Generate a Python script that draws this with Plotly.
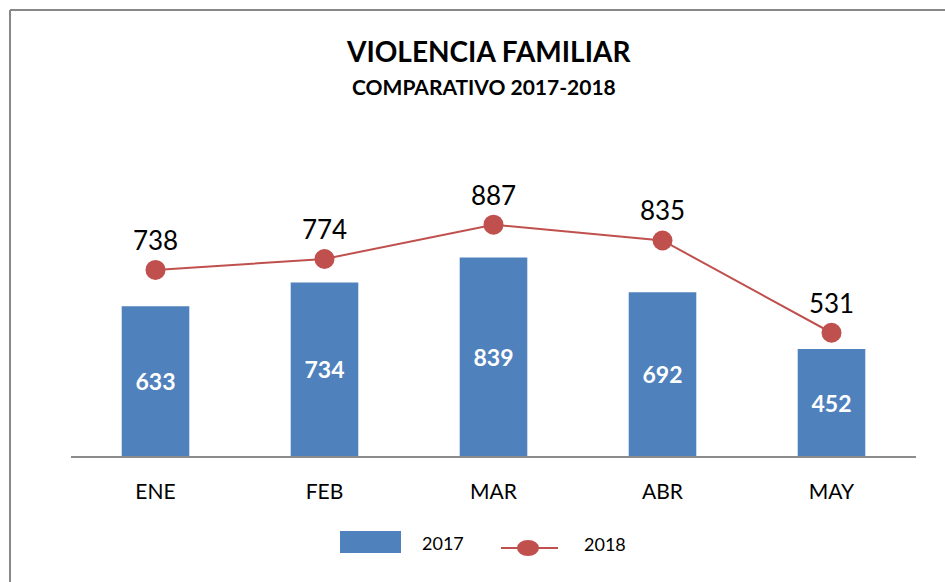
import plotly.graph_objects as go

meses = ["ENE", "FEB", "MAR", "ABR", "MAY"]
v2017 = [633, 734, 839, 692, 452]
v2018 = [738, 774, 887, 835, 531]

BLUE = "#4F81BD"
RED = "#C0504D"
FONT = "Lato"

# plot area in pixels: x 71..916, y 150..456
def xp(px):
    return (px - 71) / 845

def yp(py):
    return (456 - py) / 306

fig = go.Figure()
fig.add_trace(go.Bar(
    x=meses, y=v2017, name="2017", marker=dict(color=BLUE, line=dict(width=0)),
    text=[str(v) for v in v2017], textposition="inside", insidetextanchor="middle",
    textfont=dict(family=FONT, size=23, color="white", weight="bold"),
    textangle=0, cliponaxis=False,
))
fig.add_trace(go.Scatter(
    x=meses, y=v2018, name="2018", yaxis="y2", mode="lines+markers+text",
    line=dict(color=RED, width=2), marker=dict(color=RED, size=20),
    text=[str(v) for v in v2018], textposition="top center",
    textfont=dict(family=FONT, size=26, color="black"), cliponaxis=False,
))

shapes = [
    # frame
    dict(type="line", xref="paper", yref="paper", x0=xp(10), x1=xp(10), y0=yp(10), y1=yp(590),
         line=dict(color="#888888", width=2)),
    dict(type="line", xref="paper", yref="paper", x0=xp(10), x1=xp(950), y0=yp(10), y1=yp(10),
         line=dict(color="#888888", width=2)),
    # legend
    dict(type="rect", xref="paper", yref="paper", x0=xp(340), x1=xp(401), y0=yp(553), y1=yp(531),
         fillcolor=BLUE, line=dict(width=0)),
    dict(type="line", xref="paper", yref="paper", x0=xp(501), x1=xp(558), y0=yp(548), y1=yp(548),
         line=dict(color=RED, width=2)),
    dict(type="circle", xref="paper", yref="paper", x0=xp(517), x1=xp(539), y0=yp(556), y1=yp(540),
         fillcolor=RED, line=dict(width=0)),
]

annotations = [
    dict(text="<b>VIOLENCIA FAMILIAR</b>", xref="paper", yref="paper", x=xp(488), y=yp(51),
         showarrow=False, font=dict(family=FONT, size=28, color="black"), xanchor="center", yanchor="middle"),
    dict(text="<b>COMPARATIVO 2017-2018</b>", xref="paper", yref="paper", x=xp(484), y=yp(86),
         showarrow=False, font=dict(family=FONT, size=21, color="black"), xanchor="center", yanchor="middle"),
    dict(text="2017", xref="paper", yref="paper", x=xp(420), y=yp(543), showarrow=False,
         font=dict(family=FONT, size=18, color="black"), xanchor="left", yanchor="middle"),
    dict(text="2018", xref="paper", yref="paper", x=xp(582), y=yp(544), showarrow=False,
         font=dict(family=FONT, size=18, color="black"), xanchor="left", yanchor="middle"),
]

fig.update_layout(
    width=945, height=582, autosize=False,
    margin=dict(l=71, r=29, t=150, b=126),
    paper_bgcolor="white", plot_bgcolor="white",
    showlegend=False, bargap=0.6,
    xaxis=dict(showline=True, linecolor="#8C8C8C", linewidth=2, showgrid=False, ticks="",
               tickfont=dict(family=FONT, size=21, color="black"), ticklabelstandoff=16),
    yaxis=dict(range=[0, 1294], visible=False, showgrid=False),
    yaxis2=dict(range=[125, 1133], overlaying="y", visible=False, showgrid=False),
    shapes=shapes, annotations=annotations,
)

fig.write_html("out.html")
